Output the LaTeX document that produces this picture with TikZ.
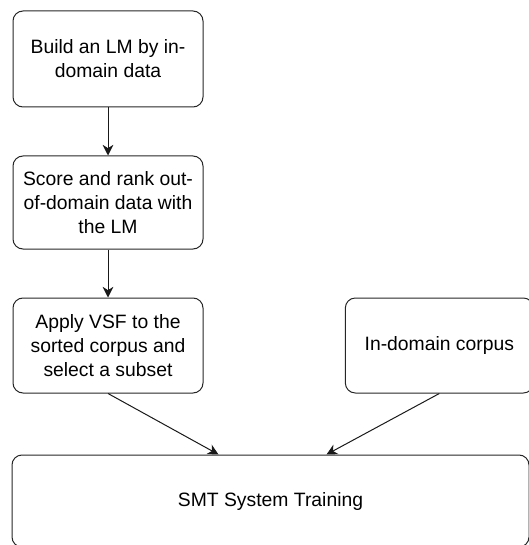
\documentclass[tikz,border=0pt]{standalone}
\usepackage{fontspec}
\setmainfont{Liberation Sans}
\usetikzlibrary{positioning,arrows.meta}

\begin{document}
\begin{tikzpicture}[x=0.75pt,y=-0.75pt,node distance=36pt,
    stepbox/.style={draw=black!85, line width=0.75pt, rounded corners=7.5pt,
        align=center, minimum width=142.5pt, inner sep=0pt,
        font=\fontsize{14.5}{18}\selectfont},
    flow/.style={draw=black!90, line width=0.75pt,
        -{Stealth[length=8pt,width=8pt,inset=2.5pt]}}]
\useasboundingbox (0,0) rectangle (528,545);
% left column
\node[stepbox, minimum height=72pt] (buildlm) at (108,59) {Build an LM by in-\\domain data};
\node[stepbox, minimum height=69.75pt, below=of buildlm] (rank) {Score and rank out-\\of-domain data with\\the LM};
\node[stepbox, minimum height=71.25pt, below=of rank] (vsf) {Apply VSF to the\\sorted corpus and\\select a subset};
% right input
\node[stepbox, minimum height=71.25pt, minimum width=141pt, right=106pt of vsf] (indomain) {In-domain corpus};
% training
\node[stepbox, minimum height=69pt, minimum width=387.75pt] (smt) at (270.5,501) {SMT System Training};

\draw[flow] (buildlm) -- (rank);
\draw[flow] (rank) -- (vsf);
\draw[flow] (vsf.south) -- ([xshift=-39pt]smt.north);
\draw[flow] (indomain.south) -- ([xshift=42pt]smt.north);
\end{tikzpicture}
\end{document}
